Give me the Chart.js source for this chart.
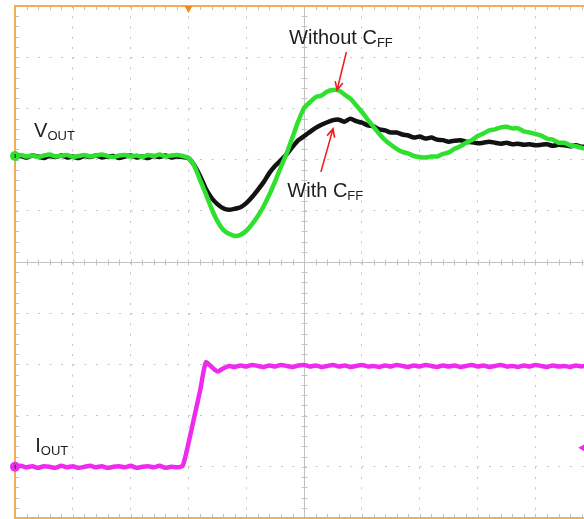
<!DOCTYPE html>
<html>
<head>
<meta charset="UTF-8">
<title>Load transient - with and without CFF</title>
<style>
	body { margin: 0; background: #fff; }
	.container { width: 584px; height: 519px; }
</style>
<script src="https://cdn.jsdelivr.net/npm/chart.js@4.4.1/dist/chart.umd.min.js"></script>
</head>
<body>
<div class="container">
	<canvas id="scope" width="584" height="519"></canvas>
</div>
<script>
	// Time axis, in scope divisions (screen shows 0 .. 9.84 div)
	var timeDiv = [
		0.0, 0.1, 0.2, 0.3, 0.4, 0.5, 0.6, 0.7, 0.8, 0.9,
		1.0, 1.1, 1.2, 1.3, 1.4, 1.5, 1.6, 1.7, 1.8, 1.9,
		2.0, 2.1, 2.2, 2.3, 2.4, 2.5, 2.6, 2.7, 2.8, 2.9,
		3.0, 3.1, 3.2, 3.3, 3.4, 3.5, 3.6, 3.7, 3.8, 3.9,
		4.0, 4.1, 4.2, 4.3, 4.4, 4.5, 4.6, 4.7, 4.8, 4.9,
		5.0, 5.1, 5.2, 5.3, 5.4, 5.5, 5.6, 5.7, 5.8, 5.9,
		6.0, 6.1, 6.2, 6.3, 6.4, 6.5, 6.6, 6.7, 6.8, 6.9,
		7.0, 7.1, 7.2, 7.3, 7.4, 7.5, 7.6, 7.7, 7.8, 7.9,
		8.0, 8.1, 8.2, 8.3, 8.4, 8.5, 8.6, 8.7, 8.8, 8.9,
		9.0, 9.1, 9.2, 9.3, 9.4, 9.5, 9.6, 9.7, 9.8, 9.84
	];

	// VOUT without CFF (green), vertical position in divisions from the bottom
	var voutNoCff = [
		7.07, 7.09, 7.06, 7.08, 7.05, 7.08, 7.10, 7.06, 7.07, 7.09,
		7.05, 7.07, 7.09, 7.06, 7.08, 7.10, 7.07, 7.05, 7.08, 7.09,
		7.06, 7.08, 7.05, 7.09, 7.07, 7.10, 7.06, 7.08, 7.09, 7.07,
		7.03, 6.88, 6.60, 6.33, 6.04, 5.80, 5.63, 5.55, 5.51, 5.53,
		5.61, 5.74, 5.90, 6.09, 6.32, 6.58, 6.86, 7.13, 7.44, 7.75,
		8.01, 8.12, 8.22, 8.25, 8.33, 8.36, 8.35, 8.27, 8.19, 8.06,
		7.93, 7.78, 7.64, 7.50, 7.38, 7.29, 7.21, 7.15, 7.12, 7.07,
		7.05, 7.04, 7.06, 7.06, 7.11, 7.14, 7.21, 7.26, 7.33, 7.38,
		7.46, 7.51, 7.57, 7.59, 7.63, 7.64, 7.61, 7.61, 7.55, 7.53,
		7.50, 7.47, 7.41, 7.39, 7.33, 7.33, 7.28, 7.26, 7.23, 7.22
	];

	// VOUT with CFF (black)
	var voutCff = [
		7.05, 7.07, 7.04, 7.08, 7.06, 7.03, 7.07, 7.05, 7.08, 7.04,
		7.06, 7.03, 7.07, 7.05, 7.08, 7.04, 7.06, 7.07, 7.03, 7.06,
		7.08, 7.04, 7.06, 7.03, 7.07, 7.05, 7.08, 7.04, 7.06, 7.05,
		7.03, 6.89, 6.68, 6.43, 6.25, 6.13, 6.05, 6.02, 6.04, 6.07,
		6.15, 6.27, 6.41, 6.56, 6.74, 6.88, 6.99, 7.11, 7.25, 7.38,
		7.46, 7.54, 7.62, 7.68, 7.73, 7.77, 7.78, 7.74, 7.80, 7.75,
		7.72, 7.67, 7.65, 7.59, 7.57, 7.53, 7.53, 7.49, 7.47, 7.43,
		7.45, 7.41, 7.43, 7.39, 7.38, 7.35, 7.37, 7.38, 7.35, 7.34,
		7.32, 7.33, 7.35, 7.33, 7.31, 7.33, 7.30, 7.31, 7.29, 7.30,
		7.28, 7.29, 7.30, 7.27, 7.29, 7.28, 7.26, 7.28, 7.25, 7.25
	];

	// IOUT load step (magenta)
	var iout = [
		1.00, 1.02, 0.99, 1.01, 0.98, 1.01, 1.00, 0.98, 1.02, 0.99,
		1.01, 0.98, 1.00, 1.02, 0.99, 1.01, 0.98, 1.00, 1.01, 0.99,
		1.02, 0.98, 1.00, 1.01, 0.99, 1.02, 0.98, 1.00, 0.99, 1.02,
		1.46, 1.97, 2.48, 3.04, 2.95, 2.86, 2.92, 2.97, 2.95, 2.98,
		2.96, 2.99, 2.97, 2.95, 2.98, 2.96, 2.99, 2.97, 2.95, 2.98,
		2.99, 2.96, 2.98, 2.95, 2.97, 2.99, 2.96, 2.98, 2.95, 2.97,
		2.99, 2.96, 2.97, 2.95, 2.98, 2.96, 2.99, 2.97, 2.95, 2.98,
		2.96, 2.99, 2.97, 2.95, 2.98, 2.96, 2.98, 2.95, 2.97, 2.99,
		2.96, 2.98, 2.95, 2.97, 2.99, 2.96, 2.97, 2.95, 2.98, 2.96,
		2.99, 2.97, 2.95, 2.98, 2.96, 2.97, 2.95, 2.98, 2.96, 2.97
	];

	// screen range in divisions
	var xMax = 9.84;
	var yDivs = 10;

	// channel reference levels and trigger
	var voutRef = 7.07;
	var ioutRef = 1.0;
	var trigTime = 3.0;
	var trigLevel = 1.37;

	function points(ys) {
		return timeDiv.map(function(t, i) { return { x: t, y: ys[i] }; });
	}

	var FONT = '"Liberation Sans", Arial, sans-serif';

	// draws text with a subscript part, e.g. V + OUT
	function subText(ctx, main, sub, x, y) {
		ctx.font = '20px ' + FONT;
		ctx.fillText(main, x, y);
		var w = ctx.measureText(main).width;
		ctx.font = '13px ' + FONT;
		ctx.fillText(sub, x + w, y + 3);
	}

	function arrow(ctx, x1, y1, x2, y2) {
		var a = Math.atan2(y2 - y1, x2 - x1);
		ctx.beginPath();
		ctx.moveTo(x1, y1);
		ctx.lineTo(x2, y2);
		ctx.moveTo(x2 - 9 * Math.cos(a - 0.45), y2 - 9 * Math.sin(a - 0.45));
		ctx.lineTo(x2, y2);
		ctx.lineTo(x2 - 9 * Math.cos(a + 0.45), y2 - 9 * Math.sin(a + 0.45));
		ctx.stroke();
	}

	// graticule: centre cross with minor ticks, ticks on the frame
	var graticule = {
		id: 'graticule',
		beforeDatasetsDraw: function(chart) {
			var ctx = chart.ctx, xs = chart.scales.x, ys = chart.scales.y;
			var a = chart.chartArea;
			var cx = Math.round(xs.getPixelForValue(5)) + 0.5;
			var cy = Math.round(ys.getPixelForValue(5)) + 0.5;
			ctx.save();
			ctx.strokeStyle = '#c2c2c2';
			ctx.lineWidth = 1;
			ctx.beginPath();
			ctx.moveTo(cx, a.top); ctx.lineTo(cx, a.bottom);
			ctx.moveTo(a.left, cy); ctx.lineTo(a.right, cy);
			for (var i = 1; i * 0.2 < xMax; i++) {
				var px = Math.round(xs.getPixelForValue(i * 0.2)) + 0.5;
				ctx.moveTo(px, cy - 3); ctx.lineTo(px, cy + 3);
				ctx.moveTo(px, a.top); ctx.lineTo(px, a.top + 4);
				ctx.moveTo(px, a.bottom); ctx.lineTo(px, a.bottom - 4);
			}
			for (var j = 1; j < yDivs * 5; j++) {
				var py = Math.round(ys.getPixelForValue(j * 0.2)) + 0.5;
				ctx.moveTo(cx - 3, py); ctx.lineTo(cx + 3, py);
				ctx.moveTo(a.left, py); ctx.lineTo(a.left + 4, py);
			}
			ctx.stroke();
			ctx.restore();
		},
		afterDatasetsDraw: function(chart) {
			var ctx = chart.ctx, xs = chart.scales.x, ys = chart.scales.y;
			var a = chart.chartArea;
			ctx.save();
			// orange frame
			ctx.strokeStyle = '#f3ad58';
			ctx.lineWidth = 2;
			ctx.beginPath();
			ctx.moveTo(a.right + 2, a.top); ctx.lineTo(a.left, a.top);
			ctx.lineTo(a.left, a.bottom); ctx.lineTo(a.right + 2, a.bottom);
			ctx.stroke();

			// trigger position marker
			var tx = xs.getPixelForValue(trigTime);
			ctx.fillStyle = '#f08a1c';
			ctx.beginPath();
			ctx.moveTo(tx - 4, a.top); ctx.lineTo(tx + 4, a.top); ctx.lineTo(tx, a.top + 7);
			ctx.closePath(); ctx.fill();

			// channel ground markers
			[[voutRef, '#2fe02f'], [ioutRef, '#ee2aee']].forEach(function(m) {
				var y = ys.getPixelForValue(m[0]);
				ctx.fillStyle = m[1];
				ctx.beginPath(); ctx.arc(a.left, y, 5, 0, Math.PI * 2); ctx.fill();
				ctx.fillStyle = '#444';
				ctx.fillRect(a.left - 0.5, y - 2, 1.5, 4);
			});

			// trigger level marker
			var lx = xs.getPixelForValue(9.81), ly = ys.getPixelForValue(trigLevel);
			ctx.fillStyle = '#ee2aee';
			ctx.beginPath();
			ctx.moveTo(lx - 4, ly); ctx.lineTo(lx + 3, ly - 4); ctx.lineTo(lx + 3, ly + 4);
			ctx.closePath(); ctx.fill();

			// labels
			ctx.fillStyle = '#1e1e1e';
			ctx.textBaseline = 'alphabetic';
			subText(ctx, 'V', 'OUT', xs.getPixelForValue(0.33), ys.getPixelForValue(7.44));
			subText(ctx, 'I', 'OUT', xs.getPixelForValue(0.35), ys.getPixelForValue(1.29));
			subText(ctx, 'Without C', 'FF', xs.getPixelForValue(4.74), ys.getPixelForValue(9.26));
			subText(ctx, 'With C', 'FF', xs.getPixelForValue(4.71), ys.getPixelForValue(6.27));

			// red arrows
			ctx.strokeStyle = '#ec2020';
			ctx.lineWidth = 1.6;
			arrow(ctx, xs.getPixelForValue(5.73), ys.getPixelForValue(9.10),
				xs.getPixelForValue(5.57), ys.getPixelForValue(8.36));
			arrow(ctx, xs.getPixelForValue(5.29), ys.getPixelForValue(6.76),
				xs.getPixelForValue(5.50), ys.getPixelForValue(7.60));
			ctx.restore();
		}
	};

	function gridColor(c) {
		return (c.tick && c.tick.value % 5 === 0) ? 'rgba(0,0,0,0)' : '#c4c4c4';
	}

	var ctx = document.getElementById('scope').getContext('2d');
	var scope = new Chart(ctx, {
		type: 'line',
		data: {
			datasets: [
				{ label: 'Without CFF', data: points(voutNoCff), borderColor: '#2fe02f', borderWidth: 4.5, order: 0 },
				{ label: 'With CFF', data: points(voutCff), borderColor: '#121212', borderWidth: 4.5, order: 1 },
				{ label: 'IOUT', data: points(iout), borderColor: '#ee2aee', borderWidth: 4.5, order: 2 }
			]
		},
		options: {
			responsive: false,
			animation: false,
			parsing: false,
			layout: { padding: { left: 15, top: 6, right: 0, bottom: 1 } },
			elements: {
				point: { radius: 0 },
				line: { tension: 0.2, borderJoinStyle: 'round', borderCapStyle: 'round' }
			},
			plugins: { legend: { display: false }, tooltip: { enabled: false } },
			scales: {
				x: {
					type: 'linear', min: 0, max: xMax,
					ticks: { display: false, stepSize: 1 },
					grid: { color: gridColor, lineWidth: 1, drawTicks: false },
					border: { display: false, dash: [2, 8.24] }
				},
				y: {
					type: 'linear', min: 0, max: yDivs,
					ticks: { display: false, stepSize: 1 },
					grid: { color: gridColor, lineWidth: 1, drawTicks: false },
					border: { display: false, dash: [2, 9.56] }
				}
			}
		},
		plugins: [graticule]
	});
</script>
</body>
</html>
